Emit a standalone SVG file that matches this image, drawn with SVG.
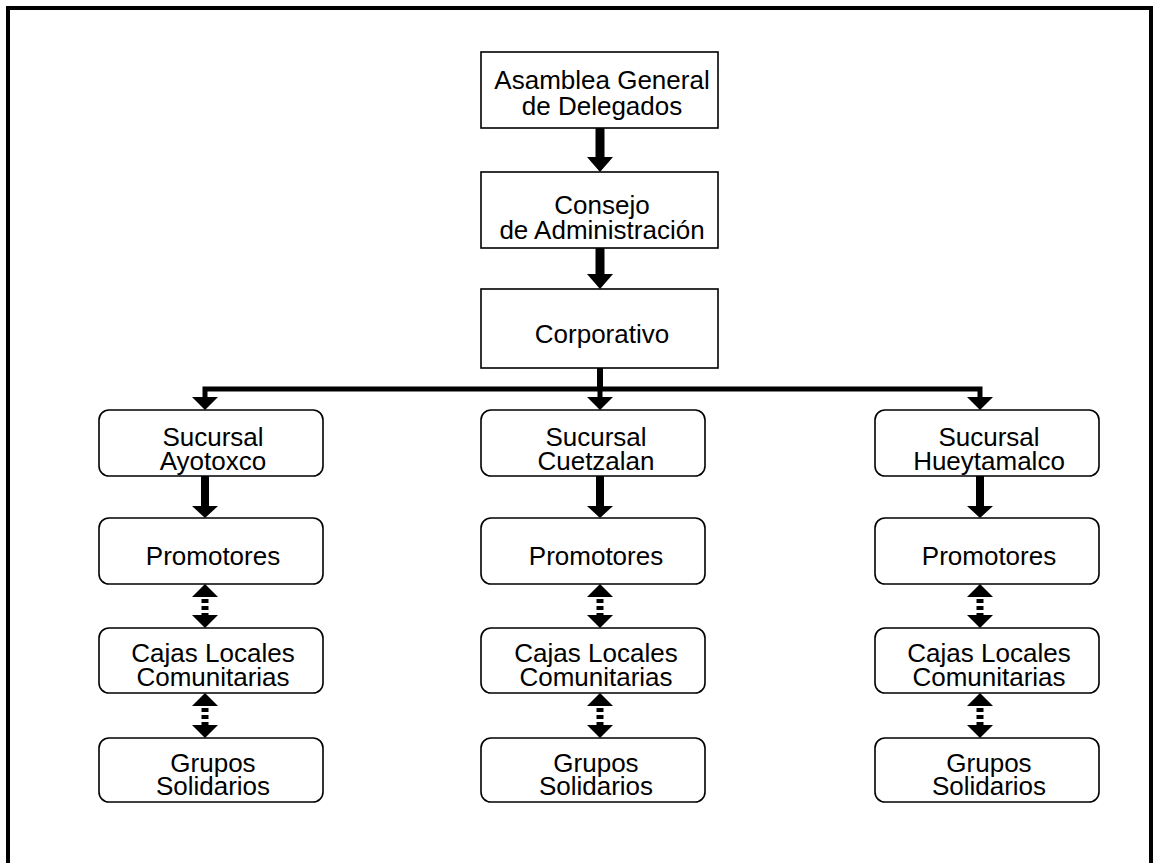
<svg xmlns="http://www.w3.org/2000/svg" width="1153" height="863" viewBox="0 0 1153 863">
<defs>
<style>
.box{fill:#fff;stroke:#000;stroke-width:1.6}
.t{font-family:"Liberation Sans",Arial,sans-serif;font-size:26px;fill:#000;text-anchor:middle}
.sh{stroke:#000;fill:none}
.hd{fill:#000;stroke:none}
.dash{stroke:#000;stroke-width:7;stroke-dasharray:4 3;fill:none}
</style>
</defs>
<rect x="0" y="0" width="1153" height="863" fill="#fff"/>
<rect x="8" y="8" width="1143" height="900" fill="none" stroke="#000" stroke-width="4"/>

<g id="asamblea">
<rect class="box" x="481" y="52" width="237" height="76"/>
<text class="t" x="602" y="89">Asamblea General</text>
<text class="t" x="602" y="115">de Delegados</text>
</g>
<g id="consejo">
<rect class="box" x="481" y="172" width="237" height="76"/>
<text class="t" x="602" y="214">Consejo</text>
<text class="t" x="602" y="239">de Administración</text>
</g>
<g id="corporativo">
<rect class="box" x="481" y="289" width="237" height="79"/>
<text class="t" x="602" y="343">Corporativo</text>
</g>

<g id="suc-ayotoxco">
<rect class="box" x="99" y="410" width="224" height="66" rx="10"/>
<text class="t" x="213" y="446">Sucursal</text>
<text class="t" x="213" y="470">Ayotoxco</text>
</g>
<g id="suc-cuetzalan">
<rect class="box" x="481" y="410" width="224" height="66" rx="10"/>
<text class="t" x="596" y="446">Sucursal</text>
<text class="t" x="596" y="470">Cuetzalan</text>
</g>
<g id="suc-hueytamalco">
<rect class="box" x="875" y="410" width="224" height="66" rx="10"/>
<text class="t" x="989" y="446">Sucursal</text>
<text class="t" x="989" y="470">Hueytamalco</text>
</g>

<g id="prom-ayotoxco">
<rect class="box" x="99" y="518" width="224" height="66" rx="10"/>
<text class="t" x="213" y="565">Promotores</text>
</g>
<g id="prom-cuetzalan">
<rect class="box" x="481" y="518" width="224" height="66" rx="10"/>
<text class="t" x="596" y="565">Promotores</text>
</g>
<g id="prom-hueytamalco">
<rect class="box" x="875" y="518" width="224" height="66" rx="10"/>
<text class="t" x="989" y="565">Promotores</text>
</g>

<g id="cajas-ayotoxco">
<rect class="box" x="99" y="628" width="224" height="65" rx="10"/>
<text class="t" x="213" y="662">Cajas Locales</text>
<text class="t" x="213" y="686">Comunitarias</text>
</g>
<g id="cajas-cuetzalan">
<rect class="box" x="481" y="628" width="224" height="65" rx="10"/>
<text class="t" x="596" y="662">Cajas Locales</text>
<text class="t" x="596" y="686">Comunitarias</text>
</g>
<g id="cajas-hueytamalco">
<rect class="box" x="875" y="628" width="224" height="65" rx="10"/>
<text class="t" x="989" y="662">Cajas Locales</text>
<text class="t" x="989" y="686">Comunitarias</text>
</g>

<g id="grupos-ayotoxco">
<rect class="box" x="99" y="738" width="224" height="64" rx="10"/>
<text class="t" x="213" y="772">Grupos</text>
<text class="t" x="213" y="795">Solidarios</text>
</g>
<g id="grupos-cuetzalan">
<rect class="box" x="481" y="738" width="224" height="64" rx="10"/>
<text class="t" x="596" y="772">Grupos</text>
<text class="t" x="596" y="795">Solidarios</text>
</g>
<g id="grupos-hueytamalco">
<rect class="box" x="875" y="738" width="224" height="64" rx="10"/>
<text class="t" x="989" y="772">Grupos</text>
<text class="t" x="989" y="795">Solidarios</text>
</g>

<g id="connectors">
<line class="sh" x1="600" y1="128" x2="600" y2="158" stroke-width="9"/>
<polygon class="hd" points="587,157 613,157 600,172"/>
<line class="sh" x1="600" y1="248" x2="600" y2="275" stroke-width="9"/>
<polygon class="hd" points="587,274 613,274 600,289"/>
<line class="sh" x1="600" y1="368" x2="600" y2="389" stroke-width="6"/>
<polyline class="sh" points="205,398 205,389 980,389 980,398" stroke-width="5"/>
<line class="sh" x1="600" y1="389" x2="600" y2="398" stroke-width="5"/>
<polygon class="hd" points="192,397 218,397 205,410"/>
<polygon class="hd" points="587,397 613,397 600,410"/>
<polygon class="hd" points="967,397 993,397 980,410"/>

<line class="sh" x1="205" y1="476" x2="205" y2="507" stroke-width="8"/>
<polygon class="hd" points="192,506 218,506 205,518"/>
<line class="sh" x1="600" y1="476" x2="600" y2="507" stroke-width="8"/>
<polygon class="hd" points="587,506 613,506 600,518"/>
<line class="sh" x1="980" y1="476" x2="980" y2="507" stroke-width="8"/>
<polygon class="hd" points="967,506 993,506 980,518"/>

<polygon class="hd" points="205,584 218,597 192,597"/>
<line class="dash" x1="205" y1="599" x2="205" y2="615"/>
<polygon class="hd" points="192,615 218,615 205,628"/>
<polygon class="hd" points="600,584 613,597 587,597"/>
<line class="dash" x1="600" y1="599" x2="600" y2="615"/>
<polygon class="hd" points="587,615 613,615 600,628"/>
<polygon class="hd" points="980,584 993,597 967,597"/>
<line class="dash" x1="980" y1="599" x2="980" y2="615"/>
<polygon class="hd" points="967,615 993,615 980,628"/>

<polygon class="hd" points="205,693 218,706 192,706"/>
<line class="dash" x1="205" y1="708" x2="205" y2="725"/>
<polygon class="hd" points="192,725 218,725 205,738"/>
<polygon class="hd" points="600,693 613,706 587,706"/>
<line class="dash" x1="600" y1="708" x2="600" y2="725"/>
<polygon class="hd" points="587,725 613,725 600,738"/>
<polygon class="hd" points="980,693 993,706 967,706"/>
<line class="dash" x1="980" y1="708" x2="980" y2="725"/>
<polygon class="hd" points="967,725 993,725 980,738"/>
</g>
</svg>
